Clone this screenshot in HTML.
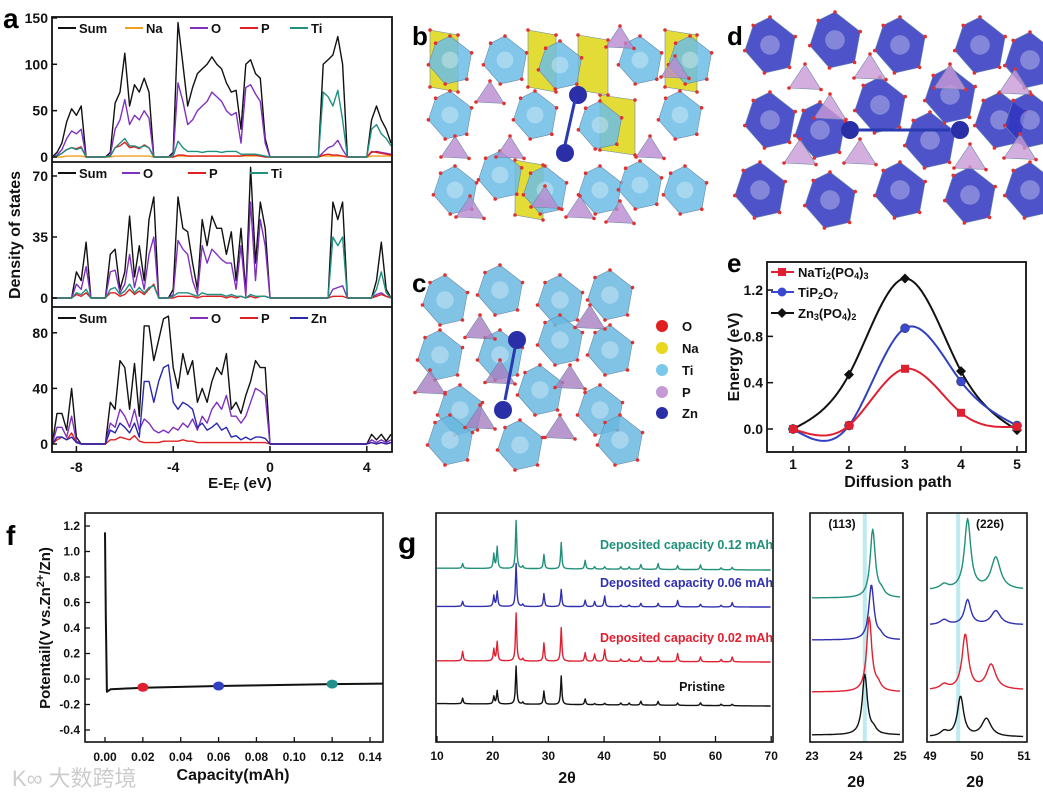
<!DOCTYPE html>
<html><head><meta charset="utf-8">
<style>
html,body{margin:0;padding:0;background:#fff;}
svg{display:block;font-family:"Liberation Sans","Noto Sans CJK SC",sans-serif;}
.b{font-weight:bold;}
</style></head>
<body>
<svg id="fig" width="1043" height="794" viewBox="0 0 1043 794" xmlns="http://www.w3.org/2000/svg">
<rect width="1043" height="794" fill="#fff"/>
<g id="structs"></g>
<g id="pa"></g>
<g id="pe"></g>
<g id="pf"></g>
<g id="pg"></g>
<text x="3" y="28" font-size="28" class="b">a</text>
<text x="412" y="45" font-size="26" class="b">b</text>
<text x="412" y="292" font-size="26" class="b">c</text>
<text x="727" y="45" font-size="26" class="b">d</text>
<text x="727" y="272" font-size="26" class="b">e</text>
<text x="6" y="545" font-size="28" class="b">f</text>
<text x="398" y="553" font-size="30" class="b">g</text>
<text x="12" y="786" font-size="22" fill="#ccc">K∞ 大数跨境</text>
</svg>
<script>
// ---------- Panel a data (E grid: -9.0 to 5.0 step 0.2) ----------
const dosTopSum=[0,5,15,38,52,45,55,0,0,0,0,0,5,58,70,112,55,78,70,85,70,0,0,0,0,5,145,100,55,75,90,95,100,108,100,95,80,70,72,30,100,105,90,85,20,0,0,0,0,0,0,0,0,0,0,0,100,105,110,130,100,0,0,0,0,0,40,55,40,30,15];
const dosTopO=[0,2,8,20,28,25,30,0,0,0,0,0,2,30,40,62,35,45,40,50,42,0,0,0,0,2,80,60,35,40,50,55,60,70,65,60,50,45,48,15,75,78,68,60,15,0,0,0,0,0,0,0,0,0,0,0,5,10,12,18,8,0,0,0,0,0,5,6,5,4,3];
const dosTopP=[0,1,4,8,10,9,11,0,0,0,0,0,1,10,12,16,10,11,9,13,10,0,0,0,0,0,2,2,1,1,1,1,1,1,1,1,1,1,1,1,2,2,2,1,0,0,0,0,0,0,0,0,0,0,0,0,2,3,2,2,1,0,0,0,0,0,6,5,4,3,2];
const dosTopTi=[0,1,4,8,10,8,10,0,0,0,0,0,1,10,15,20,12,12,10,12,10,0,0,0,0,1,17,10,6,6,6,5,6,6,6,5,6,6,6,3,3,3,3,2,1,0,0,0,0,0,0,0,0,0,0,0,70,65,55,72,40,0,0,0,0,0,30,35,25,20,12];
const dosTopNa=[0,0,0,1,1,1,1,0,0,0,0,0,0,1,1,1,1,1,1,1,1,0,0,0,0,0,1,1,1,1,1,1,1,1,1,1,1,1,1,1,1,1,1,1,0,0,0,0,0,0,0,0,0,0,0,0,1,1,1,1,1,0,0,0,0,0,1,1,1,1,1];
const dosMidSum=[0,0,0,0,0,15,10,32,0,0,0,0,25,28,5,15,47,12,30,10,45,58,0,0,0,5,58,40,38,20,5,45,30,47,40,40,25,38,10,40,3,75,20,55,40,0,0,0,0,0,0,0,0,0,0,0,0,0,55,45,55,0,0,0,0,0,0,10,32,5,0];
const dosMidO=[0,0,0,0,0,8,5,18,0,0,0,0,15,16,3,8,25,6,18,5,25,35,0,0,0,2,33,28,25,10,2,30,20,28,25,22,20,20,5,30,1,55,10,45,30,0,0,0,0,0,0,0,0,0,0,0,0,0,5,6,7,0,0,0,0,0,0,2,3,1,0];
const dosMidP=[0,0,0,0,0,2,1,3,0,0,0,0,3,3,1,2,5,2,4,2,5,8,0,0,0,0,1,1,1,1,0,1,1,1,1,1,0,1,0,1,0,1,0,1,1,0,0,0,0,0,0,0,0,0,0,0,0,0,1,1,1,0,0,0,0,0,0,1,2,1,0];
const dosMidTi=[0,0,0,0,0,3,2,5,0,0,0,0,5,6,2,4,8,3,6,3,6,7,0,0,0,1,3,3,3,2,1,3,2,2,2,2,1,2,1,1,0,2,1,1,1,0,0,0,0,0,0,0,0,0,0,0,0,0,35,30,35,0,0,0,0,0,0,5,15,3,0];
const dosBotSum=[0,22,22,10,40,5,0,0,0,0,0,0,30,25,60,55,25,58,20,85,85,60,75,90,92,55,40,65,50,60,30,40,30,45,55,50,65,25,30,22,35,45,60,55,55,0,0,0,0,0,0,0,0,0,0,0,0,0,0,0,0,0,0,0,0,0,7,3,7,2,7];
const dosBotO=[0,12,12,5,20,2,0,0,0,0,0,0,15,12,25,20,12,25,10,18,15,10,8,10,8,12,10,15,12,18,10,20,15,25,30,25,35,20,20,15,20,30,40,38,35,0,0,0,0,0,0,0,0,0,0,0,0,0,0,0,0,0,0,0,0,0,3,1,3,1,3];
const dosBotP=[0,3,5,3,8,1,0,0,0,0,0,0,3,3,5,4,3,6,2,1,1,1,1,2,2,2,2,3,2,2,1,1,1,1,1,1,1,1,1,1,1,1,1,1,1,0,0,0,0,0,0,0,0,0,0,0,0,0,0,0,0,0,0,0,0,0,1,0,1,0,1];
const dosBotZn=[0,5,5,3,5,1,0,0,0,0,0,0,10,8,15,12,8,15,5,45,45,30,45,55,57,30,25,30,28,25,12,15,10,12,15,10,12,5,6,3,5,3,5,5,4,0,0,0,0,0,0,0,0,0,0,0,0,0,0,0,0,0,0,0,0,0,1,0,1,0,1];
const dosXTicks=[-8,-4,0,4];
// ---------- Panel e data ----------
const pathSteps=[1,2,3,4,5];
const eNaTi=[0,0.03,0.52,0.14,0.02];
const eTiP=[0,0.03,0.87,0.41,0.03];
const eZn=[0,0.47,1.30,0.50,-0.01];
const eYTicks=[0,0.4,0.8,1.2];
// ---------- Panel f data ----------
const capX=[0,0.0004,0.001,0.003,0.01,0.02,0.04,0.06,0.08,0.10,0.12,0.14,0.147];
const capV=[1.15,0.5,-0.1,-0.08,-0.075,-0.068,-0.062,-0.055,-0.05,-0.045,-0.04,-0.037,-0.036];
const markX=[0.02,0.06,0.12];
const markV=[-0.065,-0.055,-0.04];
const fXTicks=[0,0.02,0.04,0.06,0.08,0.10,0.12,0.14];
const fYTicks=[-0.4,-0.2,0,0.2,0.4,0.6,0.8,1.0,1.2];
// ---------- Panel g data ----------
const peakPos=[14.6,20.2,20.8,24.2,25.4,29.2,32.3,36.6,38.3,40.1,43.0,44.5,46.6,49.7,53.2,57.3,61.0,63.0];
const intPristine=[0.15,0.2,0.35,1.0,0.05,0.35,0.75,0.15,0.03,0.04,0.05,0.05,0.1,0.1,0.06,0.07,0.04,0.04];
const int002=[0.2,0.25,0.4,1.0,0.05,0.38,0.7,0.18,0.15,0.25,0.05,0.05,0.1,0.1,0.17,0.1,0.05,0.1];
const int006=[0.12,0.25,0.35,1.0,0.05,0.3,0.4,0.15,0.12,0.25,0.04,0.04,0.08,0.08,0.15,0.06,0.04,0.1];
const int012=[0.1,0.3,0.45,1.0,0.05,0.3,0.55,0.18,0.05,0.05,0.05,0.05,0.1,0.12,0.08,0.1,0.04,0.05];
const peak113=[24.2,24.3,24.35,24.38];
const peak226a=[49.65,49.75,49.8,49.8];
const peak226b=[50.2,50.3,50.4,50.4];
</script>
<script>
const NS="http://www.w3.org/2000/svg";
function el(tag,attrs,parent){const e=document.createElementNS(NS,tag);for(const k in attrs)e.setAttribute(k,attrs[k]);parent.appendChild(e);return e;}
function txt(parent,x,y,s,size,anchor,name,color){const t=el('text',{x:x,y:y,'font-size':size,'font-weight':'bold','text-anchor':anchor||'start',fill:color||'#111'},parent);t.textContent=s;


return t;}
function line(parent,pts,color,w,name){const p=el('polyline',{points:pts.map(q=>q[0].toFixed(1)+','+q[1].toFixed(1)).join(' '),fill:'none',stroke:color,'stroke-width':w,'stroke-linejoin':'round'},parent);


return p;}
const C={k:'#111',na:'#f0a020',o:'#8030c0',p:'#e02020',ti:'#209080',zn:'#2828b0'};

// ===== Panel a =====
(function(){
const g=document.getElementById('pa');
const x0=52,x1=392;const ex=e=>270+e*24.2;
const panels=[
 {top:17,bot:162,y0:157,s:0.927,ticks:[0,50,100,150],series:[[dosTopSum,C.k,'Sum'],[dosTopNa,C.na,'Na'],[dosTopO,C.o,'O'],[dosTopP,C.p,'P'],[dosTopTi,C.ti,'Ti']],leg:[['Sum',C.k,58],['Na',C.na,125],['O',C.o,190],['P',C.p,240],['Ti',C.ti,290]]},
 {top:162,bot:307,y0:298,s:1.743,ticks:[0,35,70],series:[[dosMidSum,C.k,'Sum'],[dosMidO,C.o,'O'],[dosMidP,C.p,'P'],[dosMidTi,C.ti,'Ti']],leg:[['Sum',C.k,58],['O',C.o,122],['P',C.p,188],['Ti',C.ti,250]]},
 {top:307,bot:452,y0:444,s:1.39,ticks:[0,40,80],series:[[dosBotSum,C.k,'Sum'],[dosBotO,C.o,'O'],[dosBotP,C.p,'P'],[dosBotZn,C.zn,'Zn']],leg:[['Sum',C.k,58],['O',C.o,190],['P',C.p,240],['Zn',C.zn,290]]}];
panels.forEach((P,pi)=>{
 P.series.forEach(([arr,col,nm])=>{
  const pts=arr.map((v,i)=>[ex(-9+0.2*i),P.y0-v*P.s]);
  line(g,pts,col,1.4,'dos-'+['top','mid','bot'][pi]+'-'+nm.toLowerCase());
 });
 P.ticks.forEach(t=>{const y=P.y0-t*P.s;
  const tk=el('line',{x1:x0,x2:x0+5,y1:y,y2:y,stroke:'#111','stroke-width':1.5},g);
  
  
  txt(g,x0-4,y+5,String(t),14,'end','y-tick-label');});
 P.leg.forEach(([n,c,x])=>{const y=P.top+11;
  const l=el('line',{x1:x,x2:x+18,y1:y,y2:y,stroke:c,'stroke-width':2},g);
  
  
  txt(g,x+21,y+5,n,13,'start','legend-entry-'+n.toLowerCase());});
});
const box=el('rect',{x:x0,y:17,width:x1-x0,height:435,fill:'none',stroke:'#111','stroke-width':1.8},g);


[162,307].forEach(y=>{const s=el('line',{x1:x0,x2:x1,y1:y,y2:y,stroke:'#111','stroke-width':1.8},g);
 
 });
dosXTicks.forEach(t=>{const x=ex(t);
 const tk=el('line',{x1:x,x2:x,y1:452,y2:446,stroke:'#111','stroke-width':1.5},g);
 
 
 txt(g,x,472,String(t),14,'middle','x-tick-label');});
const xt=txt(g,240,488,'E-E',15,'middle','x-axis-title');
const sub=el('tspan',{'font-size':10,dy:2},xt);sub.textContent='F';
const sub2=el('tspan',{dy:-2},xt);sub2.textContent=' (eV)';
const yt=txt(g,0,0,'Density of states',16,'middle','y-axis-title');
yt.setAttribute('transform','translate(20,235) rotate(-90)');
})();

// ===== Panel e =====
function spline(xs,ys,n){const m=xs.length,h=[],al=[0],l=[1],mu=[0],z=[0],c=new Array(m).fill(0),b=[],d=[];
for(let i=0;i<m-1;i++)h.push(xs[i+1]-xs[i]);
for(let i=1;i<m-1;i++)al.push(3/h[i]*(ys[i+1]-ys[i])-3/h[i-1]*(ys[i]-ys[i-1]));
for(let i=1;i<m-1;i++){l[i]=2*(xs[i+1]-xs[i-1])-h[i-1]*mu[i-1];mu[i]=h[i]/l[i];z[i]=(al[i]-h[i-1]*z[i-1])/l[i];}
l[m-1]=1;z[m-1]=0;
for(let j=m-2;j>=0;j--){c[j]=z[j]-mu[j]*c[j+1];b[j]=(ys[j+1]-ys[j])/h[j]-h[j]*(c[j+1]+2*c[j])/3;d[j]=(c[j+1]-c[j])/(3*h[j]);}
const out=[];for(let j=0;j<m-1;j++)for(let k=0;k<n;k++){const t=h[j]*k/n;out.push([xs[j]+t,ys[j]+b[j]*t+c[j]*t*t+d[j]*t*t*t]);}
out.push([xs[m-1],ys[m-1]]);return out;}
(function(){
const g=document.getElementById('pe');
const X=v=>793+(v-1)*56,Y=v=>429-v*115.8;
const series=[[eZn,C.k,'diamond','zn3po42'],[eTiP,'#3040c0','circle','tip2o7'],[eNaTi,'#e02030','square','nati2po43']];
series.forEach(([ys,col,mk,nm])=>{
 line(g,spline(pathSteps,ys,20).map(p=>[X(p[0]),Y(p[1])]),col,2,'curve-'+nm);
 pathSteps.forEach((s,i)=>{const x=X(s),y=Y(ys[i]);let m;
  if(mk==='circle')m=el('circle',{cx:x,cy:y,r:4.5,fill:'#3a4ad0',stroke:'#223','stroke-width':0.5},g);
  else if(mk==='square')m=el('rect',{x:x-4,y:y-4,width:8,height:8,fill:'#e02030'},g);
  else m=el('polygon',{points:`${x},${y-5} ${x+5},${y} ${x},${y+5} ${x-5},${y}`,fill:'#111'},g);
  
  });
});
const box=el('rect',{x:767,y:262,width:259,height:190,fill:'none',stroke:'#111','stroke-width':1.8},g);


pathSteps.forEach(s=>{const tk=el('line',{x1:X(s),x2:X(s),y1:452,y2:446,stroke:'#111','stroke-width':1.5},g);
 
 
 txt(g,X(s),469,String(s),14,'middle','x-tick-label');});
eYTicks.forEach(v=>{const tk=el('line',{x1:767,x2:773,y1:Y(v),y2:Y(v),stroke:'#111','stroke-width':1.5},g);
 
 
 txt(g,763,Y(v)+5,v.toFixed(1),14,'end','y-tick-label');});
txt(g,898,487,'Diffusion path',16,'middle','x-axis-title');
const yt=txt(g,0,0,'Energy (eV)',16,'middle','y-axis-title');
yt.setAttribute('transform','translate(739,357) rotate(-90)');
const leg=[['NaTi','2','(PO','4',')','3','','#e02030','square',272],['TiP','2','O','7','','','','#3a4ad0','circle',292],['Zn','3','(PO','4',')','2','','#111','diamond',313]];
leg.forEach(L=>{const y=L[9];const x=782;
 const l=el('line',{x1:771,x2:794,y1:y,y2:y,stroke:L[7],'stroke-width':2},g);
 
 
 let m;if(L[8]==='square')m=el('rect',{x:x-4,y:y-4,width:8,height:8,fill:L[7]},g);
 else if(L[8]==='circle')m=el('circle',{cx:x,cy:y,r:4.5,fill:L[7]},g);
 else m=el('polygon',{points:`${x},${y-5} ${x+5},${y} ${x},${y+5} ${x-5},${y}`,fill:L[7]},g);
 
 
 const t=txt(g,798,y+5,L[0],13,'start','legend-entry');
 for(let i=1;i<6;i++){if(!L[i])continue;const ts=el('tspan',{'font-size':i%2?9:13,dy:i%2?2:-2},t);ts.textContent=L[i];}
});
})();

// ===== Panel f =====
(function(){
const g=document.getElementById('pf');
const X=v=>105+v*1893,Y=v=>679-v*127.5;
const box=el('rect',{x:85,y:513,width:298,height:229,fill:'none',stroke:'#111','stroke-width':1.6},g);


line(g,capX.map((c,i)=>[X(c),Y(capV[i])]),'#111',2,'potential-curve');
const cols=['#e02030','#3040c0','#20908a'];
markX.forEach((c,i)=>{const m=el('ellipse',{cx:X(c),cy:Y(markV[i]),rx:5.5,ry:4.5,fill:cols[i]},g);
 
 });
fXTicks.forEach(t=>{const tk=el('line',{x1:X(t),x2:X(t),y1:742,y2:737,stroke:'#111','stroke-width':1.3},g);
 
 
 txt(g,X(t),761,t.toFixed(2),12,'middle','x-tick-label');});
fYTicks.forEach(t=>{const tk=el('line',{x1:85,x2:90,y1:Y(t),y2:Y(t),stroke:'#111','stroke-width':1.3},g);
 
 
 txt(g,80,Y(t)+4,t.toFixed(1),12,'end','y-tick-label');});
txt(g,233,780,'Capacity(mAh)',16,'middle','x-axis-title');
const yt=txt(g,0,0,'Potentail(V vs.Zn',15,'middle','y-axis-title');
const s1=el('tspan',{'font-size':11,dy:-6},yt);s1.textContent='2+';
const s2=el('tspan',{dy:6},yt);s2.textContent='/Zn)';
yt.setAttribute('transform','translate(50,628) rotate(-90)');
})();

// ===== Panel g =====
(function(){
const g=document.getElementById('pg');
function frame(x,w,nm){const r=el('rect',{x:x,y:513,width:w,height:229,fill:'none',stroke:'#111','stroke-width':1.6},g);
 
 }
const X=v=>437+(v-10)*5.57;
const tr=[[intPristine,'#111',706,38,0.004,'pristine'],[int002,'#e02030',662,48,0.002,'0.02-mah'],[int006,'#3030b0',607,43,0.001,'0.06-mah'],[int012,'#20907a',570,48,0.003,'0.12-mah']];
tr.forEach(([ints,col,base,H,slope,nm])=>{const pts=[];
 for(let t=10;t<=70;t+=0.1){let y=0;peakPos.forEach((p,i)=>{y+=ints[i]/(1+((t-p)/0.13)**2);});
  pts.push([X(t),base-(70-t)*slope*10-y*H]);}
 line(g,pts,col,1.4,'xrd-'+nm);});
frame(436,337,'xrd-main-frame');
[10,20,30,40,50,60,70].forEach(t=>{const tk=el('line',{x1:X(t),x2:X(t),y1:742,y2:736,stroke:'#111','stroke-width':1.3},g);
 
 
 txt(g,X(t),760,String(t),12,'middle','x-tick-label');});
txt(g,567,783,'2θ',16,'middle','x-axis-title');
txt(g,773,549,'Deposited capacity 0.12 mAh',12.5,'end','label-0.12-mah','#20907a');
txt(g,773,587,'Deposited capacity 0.06 mAh',12.5,'end','label-0.06-mah','#3030b0');
txt(g,773,642,'Deposited capacity 0.02 mAh',12.5,'end','label-0.02-mah','#e02030');
txt(g,702,691,'Pristine',12.5,'middle','label-pristine');
const cols=['#111','#e02030','#3030b0','#20907a'];
// 113
const X1=v=>812+(v-23)*44;
const b1=[735,692,640,598],h1=[60,74,55,68];
const vl=el('rect',{x:X1(24.2)-2,y:513,width:4,height:229,fill:'#bfeaf0'},g);


peak113.forEach((p,k)=>{const pts=[];for(let t=23;t<=25;t+=0.02){const y=1/(1+((t-p)/0.07)**2)+0.08/(1+((t-p-0.2)/0.08)**2);pts.push([X1(t),b1[k]-y*h1[k]]);}
 line(g,pts,cols[k],1.4,'xrd-113-series');});
frame(810,93,'xrd-113-frame');
[23,24,25].forEach(t=>txt(g,X1(t),760,String(t),12,'middle','x-tick-label'));
txt(g,856,787,'2θ',16,'middle','x-axis-title-113');
txt(g,842,528,'(113)',12,'middle','peak-label-113');
// 226
const X2=v=>930+(v-49)*47;
const b2=[737,690,625,590],h2=[[40,18],[55,25],[25,14],[70,32]];
const vl2=el('rect',{x:X2(49.6)-2,y:513,width:4,height:229,fill:'#bfeaf0'},g);


peak226a.forEach((p,k)=>{const pts=[];for(let t=49;t<=51;t+=0.02){const y=h2[k][0]/(1+((t-p)/0.08)**2)+h2[k][1]/(1+((t-peak226b[k])/0.12)**2)+5/(1+((t-49.3)/0.1)**2);pts.push([X2(t),b2[k]-y]);}
 line(g,pts,cols[k],1.4,'xrd-226-series');});
frame(927,100,'xrd-226-frame');
[49,50,51].forEach(t=>txt(g,X2(t),760,String(t),12,'middle','x-tick-label'));
txt(g,975,787,'2θ',16,'middle','x-axis-title-226');
txt(g,990,528,'(226)',12,'middle','peak-label-226');
})();

// ===== Structures b, c, d (schematic) =====
(function(){
const g=document.getElementById('structs');
function poly(pts,fill,op,name){const p=el('polygon',{points:pts.map(q=>q.join(',')).join(' '),fill:fill,'fill-opacity':op,stroke:'#6a8aa8','stroke-width':0.6},g);
 
 
 pts.forEach(q=>{const d=el('circle',{cx:q[0],cy:q[1],r:1.8,fill:'#e03030'},g);
  
  });}
function oct(cx,cy,r,fill,name){poly([[cx,cy-r],[cx+r*0.9,cy-r*0.3],[cx+r*0.7,cy+r*0.8],[cx-0.2*r,cy+r],[cx-r*0.9,cy+r*0.2],[cx-r*0.6,cy-r*0.7]],fill,0.85,name);
 const s=el('circle',{cx:cx,cy:cy,r:r*0.35,fill:'#fff','fill-opacity':0.3},g);
 
 }
function tri(cx,cy,r,fill,name){poly([[cx,cy-r],[cx+r,cy+r*0.6],[cx-r,cy+r*0.5]],fill,0.8,name);}
function zn(cx,cy,name){const c=el('circle',{cx:cx,cy:cy,r:9,fill:'#2a2fa8'},g);
 
 }
function arrow(x1,y1,x2,y2,name){const a=el('line',{x1:x1,y1:y1,x2:x2,y2:y2,stroke:'#2a3ab0','stroke-width':3},g);
 
 }
// b
[[430,30,28,62],[528,30,28,62],[600,95,35,60],[665,30,32,62],[515,160,28,60],[578,35,30,60]].forEach(r=>poly([[r[0],r[1]],[r[0]+r[2],r[1]+5],[r[0]+r[2],r[1]+r[3]],[r[0],r[1]+r[3]-5]],'#e0d820',0.9,'na-polyhedron'));
[[450,60],[505,60],[450,115],[535,115],[680,115],[455,190],[600,190],[685,190],[600,125],[640,60],[560,65],[500,175],[545,190],[640,185],[690,60]].forEach(p=>oct(p[0],p[1],24,'#6cbde6','ti-octahedron'));
[[490,95],[510,150],[580,210],[650,150],[620,40],[455,150],[545,200],[675,70],[470,210],[620,215]].forEach(p=>tri(p[0],p[1],14,'#b98ad0','p-tetrahedron'));
zn(565,153,'zn-atom-b');zn(578,95,'zn-atom-b2');arrow(575,100,565,145,'diffusion-arrow-b');
// c
[[445,300],[500,290],[560,300],[610,295],[440,355],[560,340],[610,350],[460,410],[540,390],[600,410],[520,445],[450,440],[620,440],[500,355]].forEach(p=>oct(p[0],p[1],25,'#6ab8e0','ti-octahedron-c'));
[[480,330],[590,320],[500,375],[570,380],[480,420],[560,430],[430,385]].forEach(p=>tri(p[0],p[1],15,'#a880c0','p-tetrahedron-c'));
zn(517,340,'zn-atom-c1');zn(503,410,'zn-atom-c2');arrow(515,348,505,400,'diffusion-arrow-c');
// d
[[770,45],[835,40],[900,45],[980,45],[1030,60],[770,120],[880,105],[1000,120],[760,190],[830,200],[900,190],[970,195],[1030,190],[930,140],[820,130],[1030,120],[950,95]].forEach(p=>oct(p[0],p[1],28,'#3035c0','zn-polyhedron-d'));
[[805,80],[870,70],[950,80],[1015,85],[800,155],[860,155],[970,160],[830,110],[1020,150]].forEach(p=>tri(p[0],p[1],16,'#c99ad6','p-tetrahedron-d'));
zn(850,130,'zn-atom-d1');zn(960,130,'zn-atom-d2');arrow(858,130,950,130,'diffusion-arrow-d');
// legend c
const leg=[['O','#e02020',326],['Na','#e8d820',348],['Ti','#7cc8ec',370],['P','#c59ad6',392],['Zn','#2a2fa8',413]];
leg.forEach(L=>{const c=el('circle',{cx:662,cy:L[2],r:6,fill:L[1]},g);
 
 
 txt(g,682,L[2]+5,L[0],13,'start','legend-entry-'+L[0].toLowerCase());});
})();
</script>
</body></html>
